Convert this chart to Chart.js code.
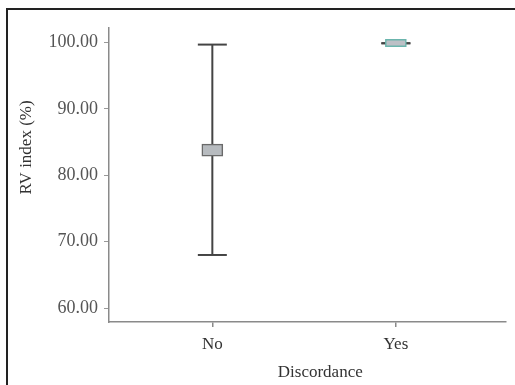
<!DOCTYPE html>
<html>
<head>
<meta charset="utf-8">
<script src="https://cdn.jsdelivr.net/npm/chart.js@4/dist/chart.umd.min.js"></script>
<style>
  html, body { margin: 0; padding: 0; background: #fff; }
  #wrap { position: relative; width: 515px; height: 385px; overflow: hidden; }
  #frame { position: absolute; left: 6px; top: 8px; right: -10px; bottom: -10px;
           border-left: 2px solid #222; border-top: 2px solid #222; pointer-events: none; }
</style>
</head>
<body>
<div id="wrap">
  <canvas id="chart" width="515" height="385"></canvas>
  <div id="frame"></div>
</div>
<script>
// data
const categories = ['No', 'Yes'];
const catPos = [1, 2];
const whiskerLow = [68.0, 99.9];
const whiskerHigh = [99.7, 99.9];
const boxLow = [82.9, 99.4];
const boxHigh = [84.7, 100.5];
const yTicks = [60, 70, 80, 90, 100];

const serif = "'Liberation Serif', 'DejaVu Serif', serif";

// vertical whisker per category
const whiskerSets = categories.map((c, i) => ({
  type: 'line',
  data: [{ x: catPos[i], y: whiskerLow[i] }, { x: catPos[i], y: whiskerHigh[i] }],
  borderColor: '#444',
  borderWidth: 2,
  pointRadius: 0,
  order: 2
}));

new Chart(document.getElementById('chart'), {
  type: 'bar',
  data: {
    datasets: [
      {
        type: 'bar',
        data: categories.map((c, i) => ({ x: catPos[i], y: [boxLow[i], boxHigh[i]] })),
        backgroundColor: ['#b7bbbf', '#bdc0c6'],
        borderColor: ['#6a6a6a', '#6bb5ad'],
        borderWidth: 1.5,
        borderSkipped: false,
        barThickness: 21,
        order: 0
      },
      ...whiskerSets,
      {
        type: 'scatter',
        data: categories.flatMap((c, i) => [
          { x: catPos[i], y: whiskerLow[i] },
          { x: catPos[i], y: whiskerHigh[i] }
        ]),
        pointStyle: 'line',
        pointRadius: 14.5,
        borderColor: '#444',
        borderWidth: 2,
        order: 1
      }
    ]
  },
  options: {
    responsive: false,
    animation: false,
    layout: { autoPadding: false, padding: { top: 28, right: 9, left: 0, bottom: 0 } },
    plugins: { legend: { display: false }, tooltip: { enabled: false } },
    scales: {
      x: {
        type: 'linear',
        offset: false,
        min: 0.437,
        max: 2.6,
        afterBuildTicks: s => { s.ticks = catPos.map(v => ({ value: v })); },
        afterFit: s => { s.height = 63; },
        grid: { offset: false, drawOnChartArea: false, drawTicks: true, tickLength: 5, color: '#8a8a8a', lineWidth: 1.5 },
        border: { color: '#8a8a8a', width: 1.5 },
        ticks: {
          callback: v => categories[catPos.indexOf(v)] || '',
          font: { family: serif, size: 17 },
          color: '#333',
          padding: 7,
          maxRotation: 0
        },
        title: {
          display: true,
          text: '\u00a0\u00a0\u00a0\u00a0\u00a0\u00a0Discordance',
          font: { family: serif, size: 17 },
          color: '#333',
          padding: { top: 0, bottom: 2 }
        }
      },
      y: {
        min: 57.9,
        max: 102.2,
        afterBuildTicks: s => { s.ticks = yTicks.map(v => ({ value: v })); },
        afterFit: s => { s.width = 109; },
        grid: { drawOnChartArea: false, drawTicks: true, tickLength: 5, color: '#999' },
        border: { color: '#8a8a8a', width: 1.5 },
        ticks: {
          callback: v => v.toFixed(2),
          font: { family: serif, size: 18 },
          color: '#555',
          padding: 6
        },
        title: {
          display: true,
          text: '\u00a0'.repeat(13) + 'RV index (%)',
          font: { family: serif, size: 17 },
          color: '#333',
          padding: { top: 16, bottom: 0 }
        }
      }
    }
  }
});
</script>
</body>
</html>
